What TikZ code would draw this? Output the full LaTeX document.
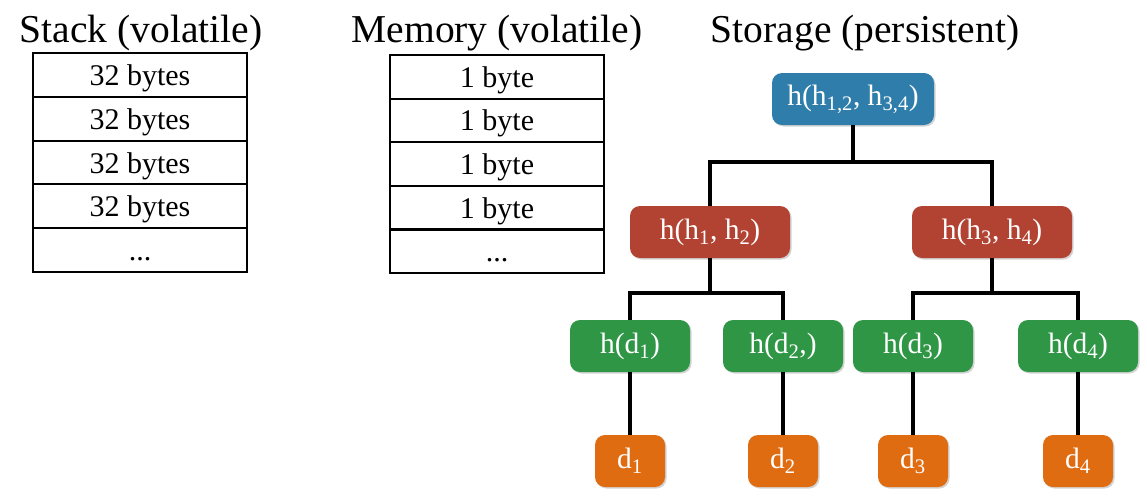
\documentclass[tikz,border=0pt]{standalone}
\usepackage{fontspec}
\setmainfont{Liberation Serif}
\usetikzlibrary{shadows}
\definecolor{rootblue}{RGB}{47,125,170}
\definecolor{hashred}{RGB}{178,66,50}
\definecolor{leafgreen}{RGB}{46,150,68}
\definecolor{dataorange}{RGB}{224,108,18}

\begin{document}
\begin{tikzpicture}[x=1pt, y=-1pt,
    title/.style={anchor=base, font=\fontsize{39.5}{45}\selectfont},
    cell/.style={draw, line width=2pt, minimum width=214pt, minimum height=43.8pt, inner sep=0pt,
        text height=24pt, text depth=3pt, font=\fontsize{30}{34}\selectfont},
    hashbox/.style={rounded corners=10pt, text=white, minimum height=52pt, inner sep=0pt, font=\fontsize{29.5}{34}\selectfont,
        drop shadow={opacity=.35, shadow xshift=1.5pt, shadow yshift=-1.5pt}},
    link/.style={line width=3.5pt}]
\useasboundingbox (0,0) rectangle (1147,495);

% titles
\node[title] (stacktitle) at (141,42) {Stack (volatile)};
\node[title] (memtitle) at (497,43) {Memory (volatile)};
\node[title] (storetitle) at (865,42) {Storage (persistent)};

% stack and memory
\foreach \i/\txt in {1/32 bytes,2/32 bytes,3/32 bytes,4/32 bytes,5/{.{}.{}.}}
{
    \node[cell] (stack\i) at (140,{53+43.8*\i-21.9}) {\txt};
}
\foreach \i/\txt in {1/1 byte,2/1 byte,3/1 byte,4/1 byte,5/{.{}.{}.}}
{
    \node[cell] (mem\i) at (497,{55+43.6*\i-21.8}) {\txt};
}

% merkle tree
\node[hashbox, fill=rootblue, minimum width=162pt] (root) at (853,99) {h(h\textsubscript{1,2}, h\textsubscript{3,4})};
\node[hashbox, fill=hashred, minimum width=160pt] (h12) at (710,232) {h(h\textsubscript{1}, h\textsubscript{2})};
\node[hashbox, fill=hashred, minimum width=160pt] (h34) at (992,232) {h(h\textsubscript{3}, h\textsubscript{4})};
\node[hashbox, fill=leafgreen, minimum width=120pt] (hd1) at (630,346) {h(d\textsubscript{1})};
\node[hashbox, fill=leafgreen, minimum width=120pt] (hd2) at (783,346) {h(d\textsubscript{2},)};
\node[hashbox, fill=leafgreen, minimum width=120pt] (hd3) at (913,346) {h(d\textsubscript{3})};
\node[hashbox, fill=leafgreen, minimum width=120pt] (hd4) at (1078,346) {h(d\textsubscript{4})};
\node[hashbox, fill=dataorange, minimum width=70pt] (d1) at (630,461) {d\textsubscript{1}};
\node[hashbox, fill=dataorange, minimum width=70pt] (d2) at (783,461) {d\textsubscript{2}};
\node[hashbox, fill=dataorange, minimum width=70pt] (d3) at (913,461) {d\textsubscript{3}};
\node[hashbox, fill=dataorange, minimum width=70pt] (d4) at (1078,461) {d\textsubscript{4}};

\coordinate (j0) at (853,162);
\coordinate (j1) at (710,293);
\coordinate (j2) at (992,293);

\draw[link] (root) -- (j0);
\draw[link] (h12) |- (j0) -| (h34);
\draw[link] (h12) -- (j1);
\draw[link] (hd1) |- (j1) -| (hd2);
\draw[link] (h34) -- (j2);
\draw[link] (hd3) |- (j2) -| (hd4);
\foreach \a/\b in {hd1/d1,hd2/d2,hd3/d3,hd4/d4}
    \draw[link] (\a) -- (\b);

\end{tikzpicture}
\end{document}
